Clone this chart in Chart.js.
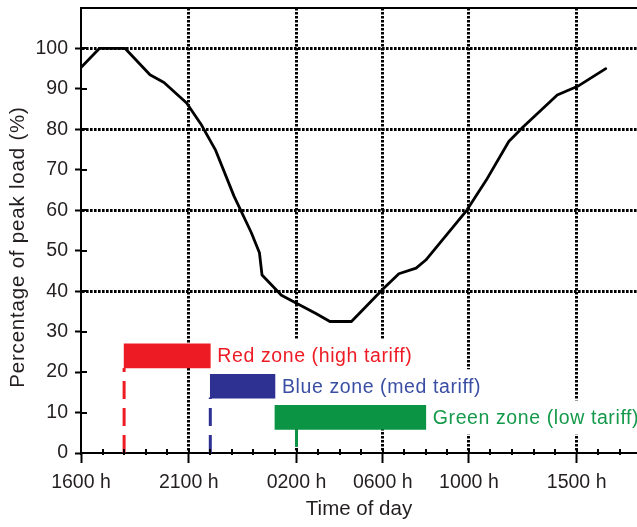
<!DOCTYPE html>
<html>
<head>
<meta charset="utf-8">
<script src="https://cdn.jsdelivr.net/npm/chart.js@4.4.1/dist/chart.umd.min.js"></script>
<style>
  html, body { margin: 0; padding: 0; background: #fff; }
  #caja { width: 637px; height: 527px; }
</style>
</head>
<body>
<div id="caja"><canvas id="myChart"></canvas></div>
<script>
// load curve, hours counted from 1600 h
const hours = [0, 0.85, 2.05, 3.2, 3.85, 4.9, 5.6, 6.25, 7.1, 7.9, 8.28, 8.4, 9.3, 10, 10.9, 11.55, 12.55, 14.05, 14.75, 15.55, 16, 17.9, 18.8, 19.85, 20.5, 22.1, 23.1, 24.35];
const load = [95.3, 100, 100, 93.5, 91.6, 86.5, 81, 74.8, 63.5, 54.5, 49.5, 44, 39, 37, 34.5, 32.5, 32.5, 40.7, 44.3, 45.7, 47.7, 60, 67.4, 77, 80.5, 88.5, 90.8, 95];

const tickHours = [0, 5, 10, 14, 18, 23];
const tickLabels = ["1600 h", "2100 h", "0200 h", "0600 h", "1000 h", "1500 h"];
const gridValues = [40, 60, 80, 100];

// tariff zones
const zoneNames = ["Red zone (high tariff)", "Blue zone (med tariff)", "Green zone (low tariff)"];
const zoneStart = [2, 6, 9];
const zoneEnd = [6, 9, 16];
const zoneLevel = [24, 16.5, 8.8];
const zoneMarkHour = [2, 6, 10];
const zoneMarkBottom = [0, 0, 1.5];
const zoneMarkTop = [21, 13.7, 5.8];
const zoneColors = ["#ed1c24", "#2e3192", "#0b9444"];
const zoneTextColors = ["#ed1c24", "#3a4ea3", "#149a4a"];

const fuente = '"Liberation Sans", Arial, sans-serif';
const textColor = "#231f20";
const labelFont = "19.5px " + fuente;

const minorHours = [];
for (let h = 0; h <= 25; h++) minorHours.push(h);
const yTicks = [];
for (let v = 0; v <= 100; v += 10) yTicks.push(v);

// white boxes behind zone labels, then the labels themselves
const zoneLabels = {
  id: "zoneLabels",
  beforeDatasetsDraw(chart) {
    const { ctx, scales: { x, y } } = chart;
    ctx.save();
    ctx.font = labelFont;
    ctx.letterSpacing = "0.6px";
    ctx.fillStyle = "#fff";
    zoneNames.forEach((name, i) => {
      const left = x.getPixelForValue(zoneEnd[i]);
      const mid = y.getPixelForValue(zoneLevel[i]);
      const w = ctx.measureText(name).width;
      ctx.fillRect(left, mid - 17, w + 14, i === 1 ? 37 : 34);
    });
    ctx.restore();
  },
  afterDatasetsDraw(chart) {
    const { ctx, scales: { x, y } } = chart;
    ctx.save();
    ctx.font = labelFont;
    ctx.letterSpacing = "0.6px";
    ctx.textBaseline = "middle";
    ctx.textAlign = "left";
    zoneNames.forEach((name, i) => {
      ctx.fillStyle = zoneTextColors[i];
      ctx.fillText(name, x.getPixelForValue(zoneEnd[i]) + 7, y.getPixelForValue(zoneLevel[i]) + 1);
    });
    ctx.restore();
  }
};

// tick marks crossing the axes, and the y title
const axisExtras = {
  id: "axisExtras",
  afterDraw(chart) {
    const { ctx, scales: { x, y }, chartArea } = chart;
    ctx.save();
    ctx.strokeStyle = "#000";
    ctx.lineWidth = 2;
    ctx.beginPath();
    yTicks.forEach(v => {
      const py = Math.round(y.getPixelForValue(v));
      ctx.moveTo(chartArea.left, py);
      ctx.lineTo(chartArea.left + 6, py);
    });
    minorHours.forEach(h => {
      const px = Math.round(x.getPixelForValue(h));
      ctx.moveTo(px, chartArea.bottom - 4);
      ctx.lineTo(px, chartArea.bottom + (tickHours.includes(h) ? 0 : 2));
    });
    ctx.stroke();

    ctx.translate(18, 247);
    ctx.rotate(-Math.PI / 2);
    ctx.font = "20.5px " + fuente;
    ctx.letterSpacing = "0.8px";
    ctx.fillStyle = textColor;
    ctx.textAlign = "center";
    ctx.textBaseline = "middle";
    ctx.fillText("Percentage of peak load (%)", 0, 0);
    ctx.restore();
  }
};

function crearChart() {
  const ctx = document.getElementById("myChart").getContext("2d");

  new Chart(ctx, {
    type: "line",
    data: {
      datasets: [
        {
          label: "Load",
          data: hours.map((h, i) => ({ x: h, y: load[i] })),
          borderColor: "#000",
          borderWidth: 2.8,
          borderJoinStyle: "round",
          borderCapStyle: "round",
          pointRadius: 0,
          tension: 0
        },
        {
          type: "bar",
          label: "Zones",
          indexAxis: "y",
          data: zoneStart.map((s, i) => ({ x: [s, zoneEnd[i]], y: zoneLevel[i] })),
          backgroundColor: zoneColors,
          borderWidth: 0,
          barThickness: 24
        },
        ...zoneMarkHour.map((h, i) => ({
          label: "mark" + i,
          data: [{ x: h, y: zoneMarkBottom[i] }, { x: h, y: zoneMarkTop[i] }],
          borderColor: zoneColors[i],
          borderWidth: 3,
          borderDash: i < 2 ? [18, 9] : [],
          pointRadius: 0
        }))
      ]
    },
    options: {
      responsive: true,
      maintainAspectRatio: false,
      animation: false,
      layout: { padding: { top: 8, left: 0, right: 0, bottom: 0 } },
      plugins: {
        legend: { display: false },
        tooltip: { enabled: false }
      },
      scales: {
        x: {
          type: "linear",
          position: "bottom",
          min: 0,
          max: 25.8,
          offset: false,
          afterBuildTicks: s => { s.ticks = minorHours.map(v => ({ value: v })); },
          afterFit: s => { s.height = 74; s.paddingLeft = 0; s.paddingRight = 0; },
          ticks: {
            autoSkip: false,
            maxRotation: 0,
            padding: 8,
            color: textColor,
            font: { family: fuente, size: 19.5 },
            callback: v => {
              const i = tickHours.indexOf(v);
              return i >= 0 ? tickLabels[i] : "";
            }
          },
          grid: {
            offset: false,
            color: c => (c.tick && c.tick.value > 0 && tickHours.includes(c.tick.value)) ? "#000" : "rgba(0,0,0,0)",
            lineWidth: 3,
            tickColor: c => (c.tick && tickHours.includes(c.tick.value)) ? "#000" : "rgba(0,0,0,0)",
            tickLength: 10,
            tickWidth: 2
          },
          border: { display: true, color: "#000", width: 2, dash: [2.6, 1.4] },
          title: {
            display: true,
            text: "Time of day",
            color: textColor,
            font: { family: fuente, size: 20.5 },
            padding: { top: 0, bottom: 5 }
          }
        },
        y: {
          type: "linear",
          min: 0,
          max: 110,
          offset: false,
          afterBuildTicks: s => { s.ticks = yTicks.map(v => ({ value: v })); },
          afterFit: s => { s.width = 81; s.paddingTop = 0; s.paddingBottom = 0; },
          ticks: {
            padding: 7,
            color: textColor,
            font: { family: fuente, size: 19.5 }
          },
          grid: {
            offset: false,
            color: c => (c.tick && gridValues.includes(c.tick.value)) ? "#000" : "rgba(0,0,0,0)",
            lineWidth: 3,
            tickColor: "#000",
            tickLength: 6,
            tickWidth: 2
          },
          border: { display: true, color: "#000", width: 2, dash: [2.6, 1.4] }
        },
        xTop: {
          type: "linear",
          position: "top",
          display: true,
          grid: { display: false },
          ticks: { display: false },
          afterFit: s => { s.height = 0; s.paddingLeft = 0; s.paddingRight = 0; },
          border: { display: true, color: "#000", width: 2 }
        }
      }
    },
    plugins: [zoneLabels, axisExtras]
  });
}

crearChart();
</script>
</body>
</html>
